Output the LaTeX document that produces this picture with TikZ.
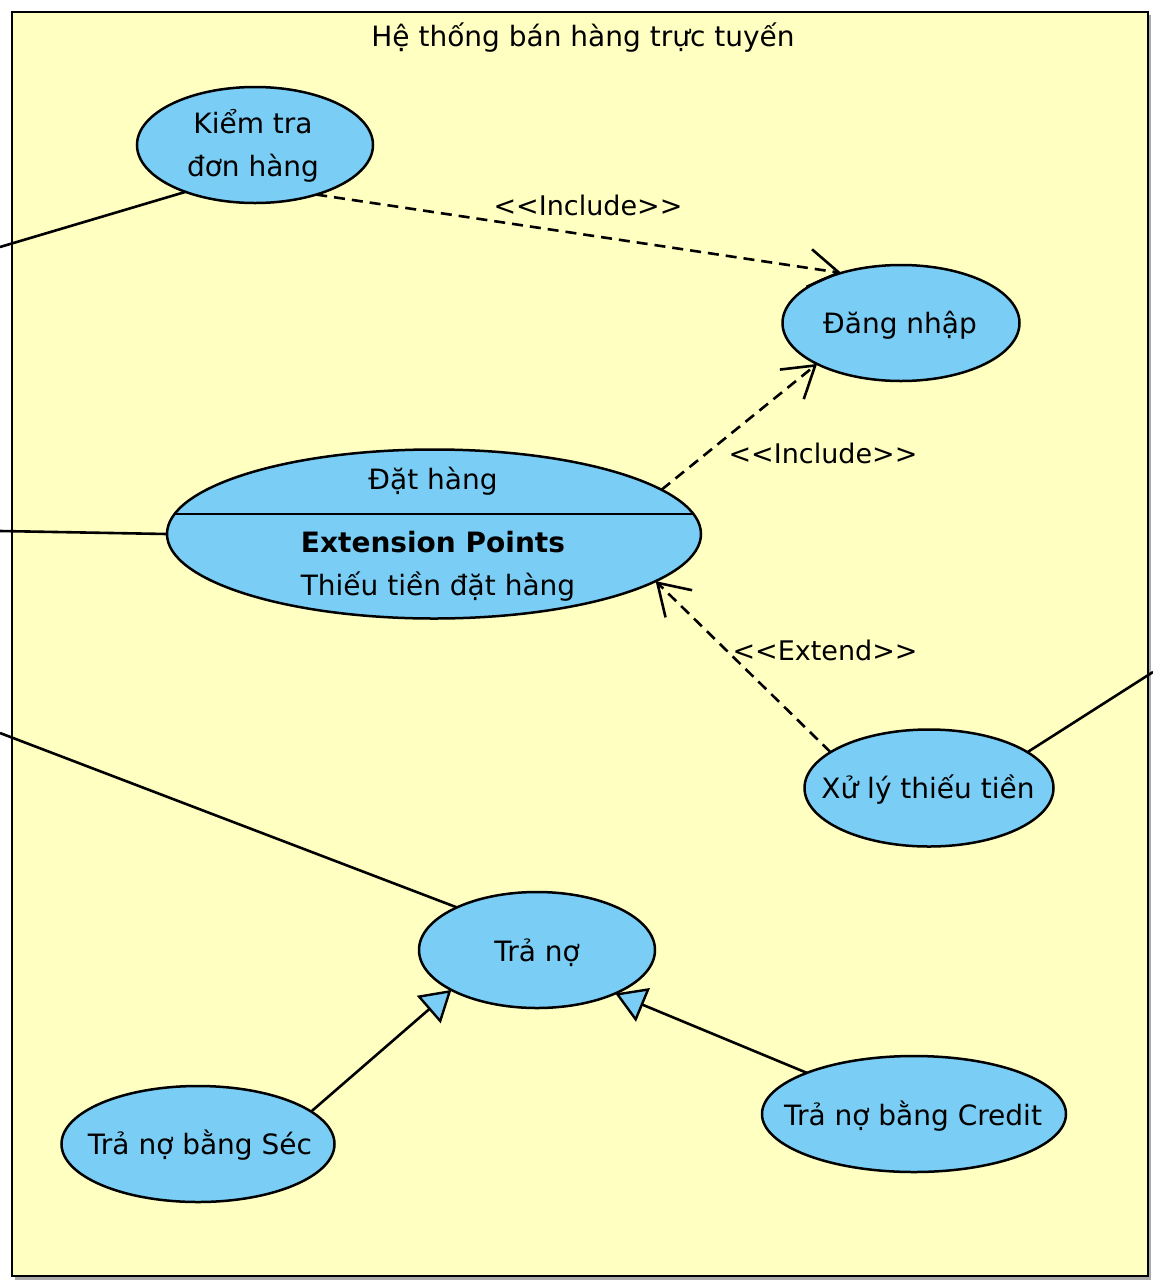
\documentclass[tikz,border=0pt]{standalone}
\usepackage{fontspec}
\setmainfont{DejaVu Sans}
\usetikzlibrary{shapes.geometric,arrows.meta,calc}
\definecolor{sysyellow}{RGB}{255,255,194}
\definecolor{ucblue}{RGB}{122,206,245}
\definecolor{shadowgray}{RGB}{170,170,170}
\tikzset{
  usecase/.style={ellipse, draw=black, line width=2.5pt, fill=ucblue,
    inner sep=0pt, outer sep=0pt},
  uctext/.style={font=\fontsize{28}{43}\selectfont, align=center, inner sep=0pt},
  stereo/.style={font=\fontsize{27}{30}\selectfont, inner sep=0pt},
  assoc/.style={draw=black, line width=2.6pt},
  depend/.style={draw=black, line width=2.6pt, dash pattern=on 11pt off 7pt,
    -{Straight Barb[length=30pt,width=38pt,line width=2.6pt]}},
  general/.style={draw=black, line width=2.6pt,
    -{Triangle[length=30pt,width=36pt,fill=ucblue,line width=2.4pt]}},
}
\begin{document}
\begin{tikzpicture}[x=1pt,y=-1pt]
  % page and system boundary
  \fill[white] (0,0) rectangle (1153,1283);
  \useasboundingbox (0,0) rectangle (1153,1283);
  \fill[shadowgray] (15,15) rectangle (1151,1280);
  \draw[line width=2.6pt, fill=sysyellow] (12,12) rectangle (1148,1276);
  \node[uctext, anchor=base] (title) at (583,46) {Hệ thống bán hàng trực tuyến};

  % use cases
  \node[usecase, minimum width=236pt, minimum height=116pt] (kt) at (255,145) {};
  \node[uctext] (ktt) at (253,146) {Kiểm tra\\đơn hàng};

  \node[usecase, minimum width=237pt, minimum height=116pt] (dn) at (901,323) {};
  \node[uctext, anchor=base] (dnt) at (900,333) {Đăng nhập};

  \node[usecase, minimum width=534pt, minimum height=169pt] (dh) at (434,534) {};
  \draw[line width=2pt] ($(dh.center)+(-259.5,-20)$) -- ($(dh.center)+(259.5,-20)$);
  \node[uctext, anchor=base] (dht) at (433,489) {Đặt hàng};
  \node[uctext, anchor=base, font=\fontsize{28}{34}\selectfont\bfseries] (ept) at (433,552) {Extension Points};
  \node[uctext, anchor=base] (ep1) at (438,595) {Thiếu tiền đặt hàng};

  \node[usecase, minimum width=249pt, minimum height=117pt] (xl) at (929,788) {};
  \node[uctext, anchor=base] (xlt) at (928,798) {Xử lý thiếu tiền};

  \node[usecase, minimum width=236pt, minimum height=116pt] (tn) at (537,950) {};
  \node[uctext, anchor=base] (tnt) at (537,961) {Trả nợ};

  \node[usecase, minimum width=273pt, minimum height=116pt] (sec) at (198,1144) {};
  \node[uctext, anchor=base] (sect) at (200,1154) {Trả nợ bằng Séc};

  \node[usecase, minimum width=304pt, minimum height=116pt] (cr) at (914,1114) {};
  \node[uctext, anchor=base] (crt) at (913,1125) {Trả nợ bằng Credit};

  % actor associations entering from outside the boundary
  \coordinate (a1) at (0,247);
  \coordinate (a2) at (0,531);
  \coordinate (a3) at (0,733);
  \coordinate (a4) at (1153,672);
  \draw[assoc] (a1) -- (kt.214.8);
  \draw[assoc] (a2) -- (dh.180);
  \draw[assoc] (a3) -- (tn.152.9);
  \draw[assoc] (a4) -- (xl.20.6);

  % include / extend dependencies
  \draw[depend] (kt.-39) -- (dn.140.7);
  \node[stereo, anchor=base] (inc1) at (588,215) {{<}{<}Include{>}{>}};
  \draw[depend] (dh.11) -- (dn.206);
  \node[stereo, anchor=base] (inc2) at (823,463) {{<}{<}Include{>}{>}};
  \draw[depend] (xl.160) -- (dh.-12);
  \node[stereo, anchor=base] (ext) at (825,660) {{<}{<}Extend{>}{>}};

  % generalizations
  \draw[general] (sec.16.5) -- (tn.205);
  \draw[general] (cr.159.7) -- (tn.-29);
\end{tikzpicture}
\end{document}
